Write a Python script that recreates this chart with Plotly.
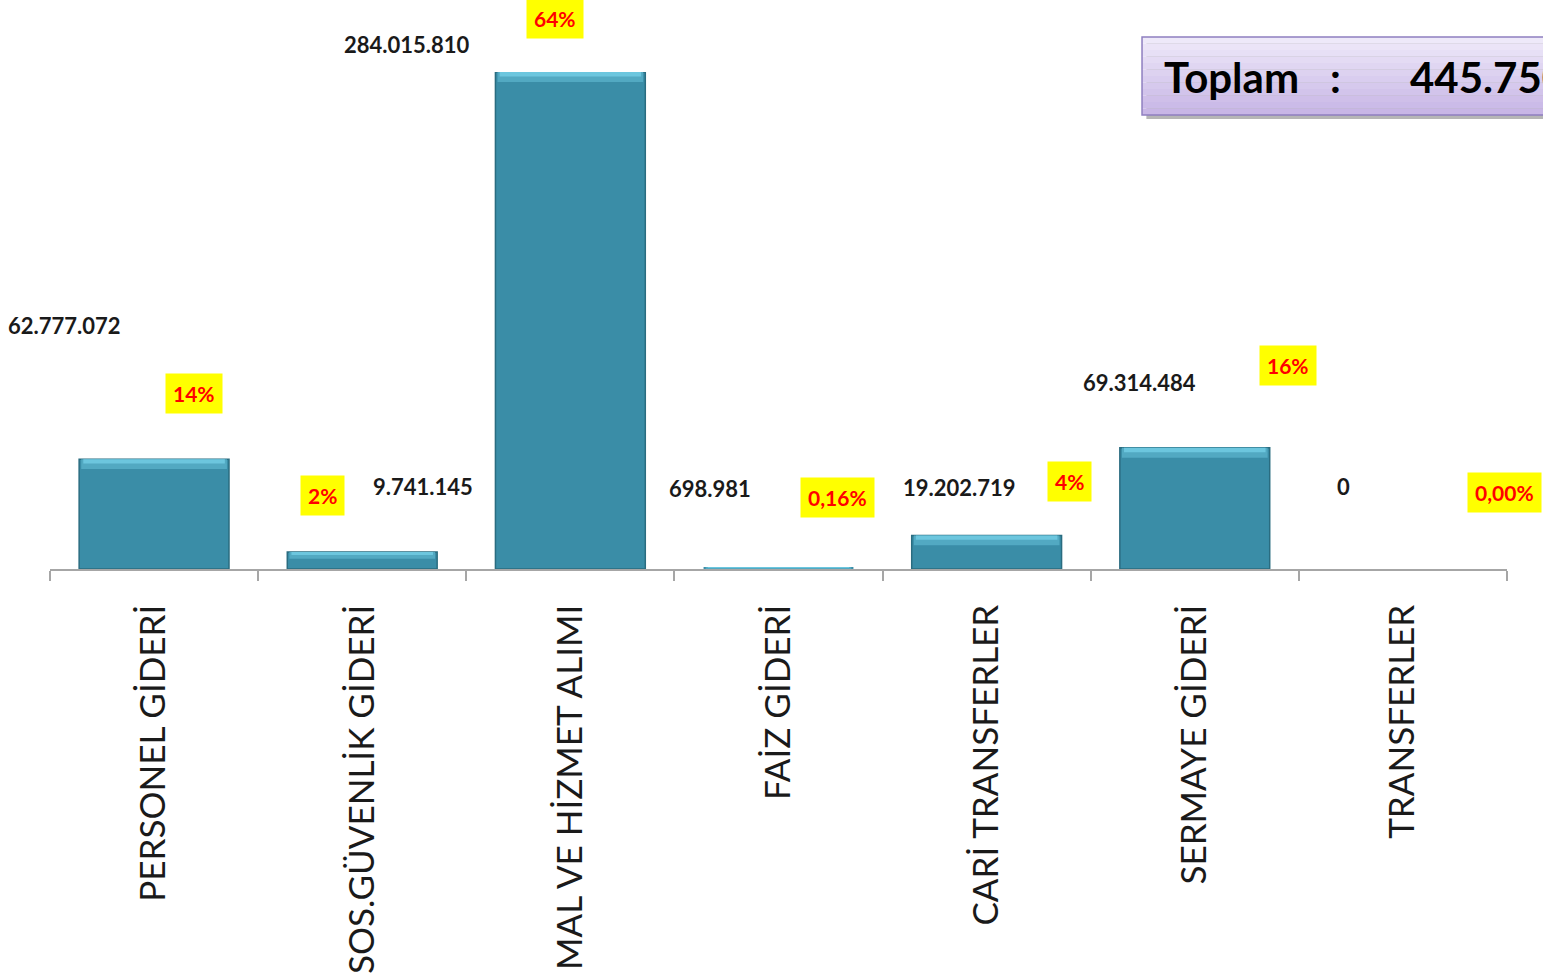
import plotly.graph_objects as go

# Data
categories = ["PERSONEL GİDERİ", "SOS.GÜVENLİK GİDERİ", "MAL VE HİZMET ALIMI", "FAİZ GİDERİ",
              "CARİ TRANSFERLER", "SERMAYE GİDERİ", "TRANSFERLER"]
amounts = [62777072, 9741145, 284015810, 698981, 19202719, 69314484, 0]
shares = ["14%", "2%", "64%", "0,16%", "4%", "16%", "0,00%"]

# Label placement (offset from category centre, paper height) - moved by hand in the original
value_pos = [(-0.43, 0.489), (0.29, 0.167), (-0.785, 1.056), (-0.33, 0.161),
             (-0.13, 0.163), (-0.265, 0.376), (-0.285, 0.165)]
share_pos = [(0.19, 0.354), (-0.19, 0.147), (-0.075, 1.107), (0.285, 0.143),
             (0.40, 0.177), (0.448, 0.410), (0.49, 0.153)]


def fmt(n):
    return f"{n:,}".replace(",", ".")


total = sum(amounts)
top = max(amounts)

fig = go.Figure()
fig.add_trace(go.Bar(
    x=categories, y=amounts,
    marker=dict(color="#3A8DA7", line=dict(color="#2A6C80", width=[1.5 if a > top * 0.01 else 0 for a in amounts])),
    width=0.72, hoverinfo="skip",
))
# lighter bevel strips on top of each bar
bevel = [min(top * 0.02, a * 0.4) for a in amounts]
fig.add_trace(go.Bar(
    x=categories, y=bevel, base=[a - b for a, b in zip(amounts, bevel)],
    marker=dict(color="#52A9C2", line=dict(width=0)),
    width=0.70, hoverinfo="skip",
))
bevel2 = [b * 0.45 for b in bevel]
fig.add_trace(go.Bar(
    x=categories, y=bevel2, base=[a - b for a, b in zip(amounts, bevel2)],
    marker=dict(color="#6CC6DE", line=dict(width=0)),
    width=0.68, hoverinfo="skip",
))

annotations = []
for i, (amt, sh) in enumerate(zip(amounts, shares)):
    dx, py = value_pos[i]
    annotations.append(dict(x=i + dx, y=py, xref="x", yref="paper", xanchor="center", yanchor="middle",
                            text=fmt(amt), showarrow=False,
                            font=dict(family="Lato", size=22, color="#1A1A1A", weight="bold")))
    dx, py = share_pos[i]
    annotations.append(dict(x=i + dx, y=py, xref="x", yref="paper", xanchor="center", yanchor="middle",
                            text=sh, showarrow=False, bgcolor="#FFFF00", borderpad=7,
                            font=dict(family="Lato", size=21, color="#FF0000", weight="bold")))

# Toplam box
box_font = dict(family="Lato", size=42, color="#000000", weight="bold")
annotations += [
    dict(x=0.7632, y=0.99, xref="paper", yref="paper", xanchor="left", yanchor="middle",
         text="Toplam", showarrow=False, font=box_font),
    dict(x=0.8826, y=0.99, xref="paper", yref="paper", xanchor="center", yanchor="middle",
         text=":", showarrow=False, font=box_font),
    dict(x=0.932, y=0.99, xref="paper", yref="paper", xanchor="left", yanchor="middle",
         text=fmt(total), showarrow=False, font=box_font),
]
y0, y1 = 0.9135, 1.0704
shapes = [dict(type="rect", xref="paper", yref="paper", x0=0.7525, x1=1.2, y0=y0 - 0.008, y1=y1 - 0.006,
               fillcolor="rgba(110,110,110,0.5)", line=dict(width=0), layer="below")]
# vertical lavender gradient
n = 12
c_top, c_bot = (238, 233, 249), (200, 182, 230)
for k in range(n):
    t = k / (n - 1)
    col = tuple(round(c_top[j] + (c_bot[j] - c_top[j]) * t) for j in range(3))
    shapes.append(dict(type="rect", xref="paper", yref="paper", x0=0.7495, x1=1.2,
                       y0=y1 - (y1 - y0) * (k + 1) / n, y1=y1 - (y1 - y0) * k / n,
                       fillcolor="rgb(%d,%d,%d)" % col, line=dict(width=0), layer="below"))
shapes.append(dict(type="rect", xref="paper", yref="paper", x0=0.7495, x1=1.2, y0=y0, y1=y1,
                   fillcolor="rgba(0,0,0,0)", line=dict(color="#8F7FC0", width=1.5), layer="below"))

fig.update_layout(
    width=1543, height=980, autosize=False,
    margin=dict(l=50, r=36, t=72, b=411),
    plot_bgcolor="white", paper_bgcolor="white",
    showlegend=False, barmode="overlay",
    annotations=annotations, shapes=shapes,
    xaxis=dict(
        type="category", range=[-0.5, 6.5], automargin=False,
        showline=True, linecolor="#A6A6A6", linewidth=1.5,
        ticks="outside", tickson="boundaries", ticklen=10, tickcolor="#A6A6A6", tickwidth=1.5,
        tickangle=-90, ticklabelstandoff=20, showgrid=False,
        tickfont=dict(family="Lato", size=35, color="#1A1A1A"),
    ),
    yaxis=dict(range=[0, top], visible=False, showgrid=False),
)

fig.write_html("out.html", config={"displayModeBar": False},
               post_script="document.body.style.margin='0';document.body.style.overflow='hidden';")
